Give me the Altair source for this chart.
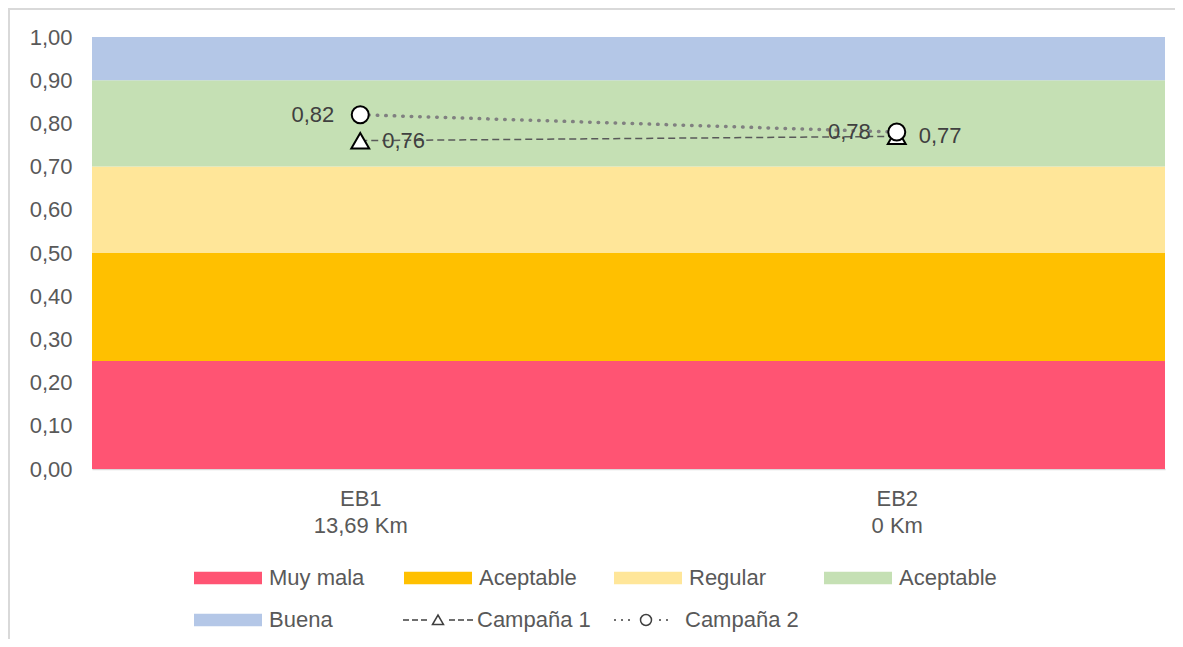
import altair as alt
import pandas as pd

# ---- data ----
estaciones = ["EB1", "EB2"]
distancias = ["13,69 Km", "0 Km"]
series = ["Campaña 1", "Campaña 2"]
campana_1 = [0.76, 0.77]
campana_2 = [0.82, 0.78]

bandas = ["Muy mala", "Aceptable", "Regular", "Aceptable ", "Buena"]
banda_inf = [0.00, 0.25, 0.50, 0.70, 0.90]
banda_sup = [0.25, 0.50, 0.70, 0.90, 1.00]
banda_colores = ["#FF5473", "#FFC000", "#FFE699", "#C5E0B4", "#B4C7E7"]

y_ticks = [0.0, 0.1, 0.2, 0.3, 0.4, 0.5, 0.6, 0.7, 0.8, 0.9, 1.0]

# ---- tables ----
etiquetas = [f"{e}\n{d}" for e, d in zip(estaciones, distancias)]
bands_df = pd.DataFrame({"banda": bandas, "inf": banda_inf, "sup": banda_sup})
rows = []
for s, vals in zip(series, [campana_1, campana_2]):
    for et, v in zip(etiquetas, vals):
        rows.append({"serie": s, "estacion": et, "valor": v,
                     "texto": f"{v:.2f}".replace(".", ",")})
pts = pd.DataFrame(rows)

FONT = "Liberation Sans"
GREY_TXT = "#595959"

y_axis = alt.Axis(values=y_ticks, labelExpr="replace(format(datum.value, '.2f'), '.', ',')",
                  domain=False, ticks=False, grid=False, labelPadding=20,
                  labelFontSize=22, labelColor=GREY_TXT, labelFont=FONT, title=None)
y_scale = alt.Scale(domain=[0, 1], nice=False, zero=True)
x_axis = alt.Axis(labelExpr="split(datum.label, '\\n')", labelAngle=0, ticks=False,
                  domain=True, domainColor="#d9d9d9", domainWidth=1.5, grid=False,
                  labelPadding=19, labelFontSize=22, labelLineHeight=27,
                  labelColor=GREY_TXT, labelFont=FONT, title=None)
x_scale = alt.Scale(type="point", padding=0.5, domain=etiquetas)

X = alt.X("estacion:N", scale=x_scale, axis=x_axis)
Y = alt.Y("valor:Q", scale=y_scale, axis=y_axis)

swatch = "M-3.4,-0.62H3.4V0.62H-3.4Z"
sym_c1 = ("M-3.5,0H-2.9M-2.6,0H-2.0M-1.7,0H-1.1"
          "M-0.55,0.45L0,-0.5L0.55,0.45Z"
          "M1.1,0H1.7M2.0,0H2.6M2.9,0H3.5")
sym_c2 = ("M-3.2,0H-3.0M-2.5,0H-2.3M-1.8,0H-1.6"
          "M-0.55,0A0.55,0.55,0,1,1,0.55,0A0.55,0.55,0,1,1,-0.55,0Z"
          "M1.3,0H1.5M2.0,0H2.2")

bands = alt.Chart(bands_df).mark_rect().encode(
    y=alt.Y("inf:Q", scale=y_scale, axis=y_axis),
    y2="sup:Q",
    fill=alt.Fill("banda:N", scale=alt.Scale(domain=bandas, range=banda_colores),
                  legend=alt.Legend(orient="none", direction="horizontal",
                                    legendX=125, legendY=530, columns=4,
                                    gridAlign="all", symbolType=swatch, symbolSize=400,
                                    symbolStrokeWidth=0, labelFontSize=22, labelFont=FONT,
                                    labelColor=GREY_TXT, labelOffset=30, columnPadding=37,
                                    rowPadding=20, title=None, padding=0)),
)

base = alt.Chart(pts)
line1 = base.transform_filter(alt.datum.serie == series[0]).mark_line(
    color="#595959", strokeWidth=1.5, strokeDash=[7, 4]).encode(x=X, y=Y)
line2 = base.transform_filter(alt.datum.serie == series[1]).mark_line(
    color="#808080", strokeWidth=3.5, strokeDash=[0.5, 8], strokeCap="round").encode(x=X, y=Y)

tri = base.transform_filter(alt.datum.serie == series[0]).mark_point(
    shape="triangle-up", size=320, filled=True, fill="white", stroke="black",
    strokeWidth=2, opacity=1).encode(x=X, y=Y)
circ = base.transform_filter(alt.datum.serie == series[1]).mark_point(
    shape="circle", size=290, filled=True, fill="white", stroke="black",
    strokeWidth=2, opacity=1).encode(x=X, y=Y)

legend_helper = base.mark_point(opacity=0, size=400, filled=False, color="#404040",
                                strokeWidth=1.8).encode(
    x=X, y=Y,
    shape=alt.Shape("serie:N", scale=alt.Scale(domain=series, range=[sym_c1, sym_c2]),
                    legend=alt.Legend(orient="none", direction="horizontal",
                                      legendX=335, legendY=572, columns=2,
                                      gridAlign="all", symbolSize=400, symbolOpacity=1,
                                      labelFontSize=22, labelFont=FONT, labelColor=GREY_TXT,
                                      labelOffset=28, columnPadding=20, title=None, padding=0)),
)

txt1 = base.transform_filter(alt.datum.serie == series[0]).mark_text(
    align="left", baseline="middle", dx=22, fontSize=22, font=FONT, color="#404040"
).encode(x=X, y=Y, text="texto:N")
txt2 = base.transform_filter(alt.datum.serie == series[1]).mark_text(
    align="right", baseline="middle", dx=-26, fontSize=22, font=FONT, color="#404040"
).encode(x=X, y=Y, text="texto:N")

# chart-area frame (top and left edges, as in the reference)
frame_src = alt.Chart(pd.DataFrame({"f": [0]}))
frame_top = frame_src.mark_rule(color="#d9d9d9", strokeWidth=2).encode(
    x=alt.value(-84), x2=alt.value(1090), y=alt.value(-28))
frame_left = frame_src.mark_rule(color="#d9d9d9", strokeWidth=2).encode(
    x=alt.value(-83), y=alt.value(-29), y2=alt.value(620))

chart = alt.layer(bands, frame_top, frame_left, line1, line2, tri, circ, legend_helper,
                  txt1, txt2).resolve_legend(
    shape="independent", fill="independent"
).properties(
    width=1073, height=432,
    autosize=alt.AutoSizeParams(type="none"),
    padding={"left": 84, "top": 29, "right": 10, "bottom": 170},
).configure(font=FONT).configure_view(stroke=None)

chart.save("out.html", embed_options={"renderer": "svg", "actions": False})
